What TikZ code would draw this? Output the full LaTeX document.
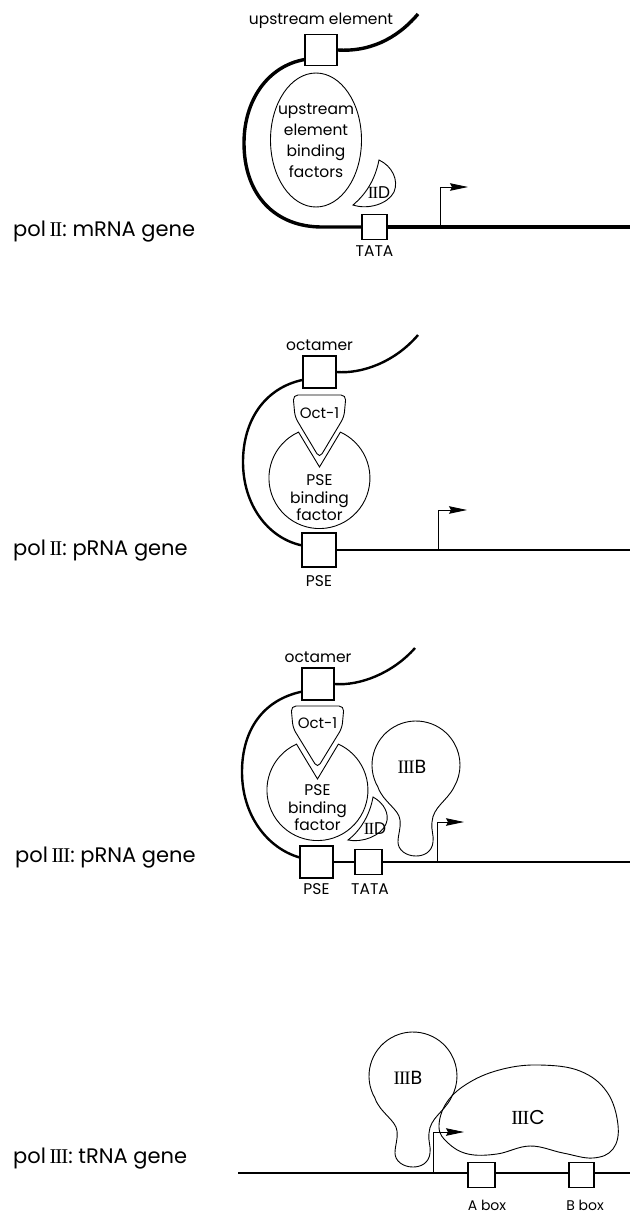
\documentclass[tikz,border=0pt]{standalone}
\usepackage{fontspec}
\setmainfont{Poppins}
\newfontfamily\serifrn{Liberation Serif}
\usetikzlibrary{arrows.meta,shapes.geometric}
\newcommand\romtwo{{\serifrn I\kern-0.05em I}}
\newcommand\romthree{{\serifrn I\kern-0.05em I\kern-0.05em I}}
\begin{document}
\begin{tikzpicture}[x=1pt,y=-1pt,
  every node/.style={font=\fontsize{15}{19}\selectfont, inner sep=0pt},
  elbox/.style={draw, line width=1.1pt, fill=white, inner sep=0pt},
  lab/.style={font=\fontsize{15.5}{19}\selectfont},
  sidelab/.style={anchor=base west, font=\fontsize{21}{24}\selectfont},
  inlab/.style={align=center, font=\fontsize{15.5}{#1}\selectfont},
  protlab/.style={font=\fontsize{19}{22}\selectfont},
  dnaA/.style={line width=3.4pt},
  dnaB/.style={line width=2.4pt},
  dnaC/.style={line width=2pt},
  prot/.style={line width=0.9pt},
  tssarrow/.style={line width=0.8pt, -{Stealth[length=18pt,width=7.5pt,inset=2pt]}}]
\useasboundingbox (0,0) rectangle (630,1213);
\def\IIIBshape{(-38.1,22) arc[start angle=150, end angle=390, radius=44]
   .. controls (31,36) and (17,42) .. (16,57)
   .. controls (15,66) and (18,70) .. (17,77)
   .. controls (16,87) and (8,91) .. (0,91)
   .. controls (-10,91) and (-18,85) .. (-18,77)
   .. controls (-18,69) and (-15,64) .. (-16,55)
   .. controls (-17,44) and (-33,37) .. (-38.1,22) -- cycle}

% ---------------- panel 1: pol II mRNA gene
\node[sidelab] (lab1) at (13,236) {pol\,\romtwo: mRNA gene};
\node[elbox, minimum width=32pt, minimum height=31pt] (ue1) at (321,50) {};
\node[lab] (ue1lab) at (321,21) {upstream element};
\coordinate (ue1end) at (418,14);
\node[elbox, minimum width=25pt, minimum height=25pt] (tata1) at (374.5,227) {};
\node[lab] (tata1lab) at (374.5,251) {TATA};
\coordinate (dna1end) at (630,227);
\draw[dnaA] (ue1.east) .. controls (368,52) and (396,40) .. (ue1end);
\draw[dnaA] (ue1.210) .. controls (268,66) and (244,100) .. (244,143)
   .. controls (244,195) and (275,227) .. (322,227) -- (tata1.west);
\draw[dnaA] (tata1.east) -- (dna1end);
\node[draw, ellipse, prot, minimum width=91pt, minimum height=134pt] (uebf) at (316,140) {};
\node[inlab=21pt] (uebftxt) at (316,141) {upstream\\element\\binding\\factors};
\draw[prot] (379,160) .. controls (392,166) and (399,180) .. (394,192)
   .. controls (388,204) and (368,210) .. (353,205)
   .. controls (366,194) and (375,180) .. (379,160) -- cycle;
\node[protlab, font=\fontsize{17}{20}\selectfont] (iid1) at (379,193) {\romtwo D};
\coordinate (tss1) at (440,227);
\coordinate (tss1top) at (440,187);
\coordinate (tss1tip) at (468,187);
\draw[tssarrow] (tss1) -- (tss1top) -- (tss1tip);

% ---------------- panel 2: pol II pRNA gene
\node[sidelab] (lab2) at (13,555) {pol\,\romtwo: pRNA gene};
\node[elbox, minimum width=33pt, minimum height=32pt] (oct2) at (319.5,372) {};
\node[lab] (oct2lab) at (319.5,345) {octamer};
\coordinate (oct2end) at (418,335);
\node[elbox, minimum width=34pt, minimum height=34pt] (pse2) at (319,550) {};
\node[lab] (pse2lab) at (319,581) {PSE};
\coordinate (dna2end) at (630,550);
\draw[dnaB] (oct2.east) .. controls (362,374) and (395,362) .. (oct2end);
\draw[dnaB] (oct2.205) .. controls (265,388) and (243,420) .. (243,462)
   .. controls (243,505) and (268,538) .. (pse2.165);
\draw[dnaC] (pse2.east) -- (dna2end);
\draw[prot, rounded corners=5pt] (293,395) -- (346,395) -- (344,417) -- (319.5,458) -- (295,417) -- cycle;
\node (oct1a) at (319.5,413) {Oct-1};
\draw[prot] (298.5,432.1) arc[start angle=245.5, end angle=-65.5, radius=50.5] -- (319.5,467) -- cycle;
\node[inlab=17.5pt] (psebf2) at (319.5,498) {PSE\\binding\\factor};
\coordinate (tss2) at (438,550);
\coordinate (tss2top) at (438,510);
\coordinate (tss2tip) at (467,510);
\draw[tssarrow] (tss2) -- (tss2top) -- (tss2tip);

% ---------------- panel 3: pol III pRNA gene
\node[sidelab] (lab3) at (15,862) {pol\,\romthree: pRNA gene};
\node[elbox, minimum width=32pt, minimum height=32pt] (oct3) at (318,684) {};
\node[lab] (oct3lab) at (318,657) {octamer};
\coordinate (oct3end) at (415,648);
\node[elbox, minimum width=33pt, minimum height=32pt] (pse3) at (316.5,862) {};
\node[elbox, minimum width=27pt, minimum height=25pt] (tata3) at (368.5,862) {};
\node[lab] (pse3lab) at (316.5,889) {PSE};
\node[lab] (tata3lab) at (370,889) {TATA};
\coordinate (dna3end) at (630,862);
\draw[dnaB] (oct3.east) .. controls (360,686) and (393,673) .. (oct3end);
\draw[dnaB] (oct3.205) .. controls (263,700) and (242,730) .. (242,772)
   .. controls (242,815) and (267,848) .. (pse3.165);
\draw[dnaB] (pse3.east) -- (tata3.west);
\draw[dnaC] (tata3.east) -- (dna3end);
\draw[prot, rounded corners=5pt] (291,706) -- (344,706) -- (342,728) -- (317.5,768) -- (293,728) -- cycle;
\node (oct1b) at (317.5,723) {Oct-1};
\draw[prot] (296.5,744.1) arc[start angle=245.5, end angle=-65.5, radius=50.5] -- (317.5,779) -- cycle;
\node[inlab=17.5pt] (psebf3) at (317.5,808) {PSE\\binding\\factor};
\draw[prot] (373,797) .. controls (384,803) and (390,814) .. (386,824)
   .. controls (381,836) and (362,843) .. (348,840)
   .. controls (360,831) and (370,815) .. (373,797) -- cycle;
\node[protlab, font=\fontsize{17}{20}\selectfont] (iid3) at (375,829) {\romtwo D};
\begin{scope}[shift={(416,765)}]
\draw[prot] \IIIBshape;
\end{scope}
\node[protlab] (iiib3) at (412,767) {\romthree B};
\coordinate (tss3) at (437,862);
\coordinate (tss3top) at (437,822);
\coordinate (tss3tip) at (464,822);
\draw[tssarrow] (tss3) -- (tss3top) -- (tss3tip);

% ---------------- panel 4: pol III tRNA gene
\node[sidelab] (lab4) at (13,1163) {pol\,\romthree: tRNA gene};
\coordinate (dna4start) at (238,1173);
\coordinate (dna4end) at (630,1173);
\draw[dnaC] (dna4start) -- (dna4end);
\node[elbox, minimum width=27pt, minimum height=25pt] (abox) at (481.5,1175) {};
\node[elbox, minimum width=25pt, minimum height=25pt] (bbox) at (581.5,1175) {};
\node[lab, font=\fontsize{14}{16}\selectfont] (aboxlab) at (487,1205) {A box};
\node[lab, font=\fontsize{14}{16}\selectfont] (bboxlab) at (585,1205) {B box};
\begin{scope}[shift={(413,1076)}]
\draw[prot] \IIIBshape;
\end{scope}
\node[protlab] (iiib4) at (408,1078) {\romthree B};
\draw[prot] plot[smooth cycle, tension=0.65] coordinates {(439,1127) (447,1102) (470,1082) (503,1069) (540,1065) (580,1071) (607,1092) (618,1125) (613,1149) (593,1158) (563,1153) (530,1146) (497,1154) (468,1154) (448,1143)};
\node[protlab, font=\fontsize{20}{22}\selectfont] (iiic) at (528,1117) {\romthree C};
\coordinate (tss4) at (433,1173);
\coordinate (tss4top) at (433,1132);
\coordinate (tss4tip) at (464,1132);
\draw[tssarrow] (tss4) -- (tss4top) -- (tss4tip);
\end{tikzpicture}
\end{document}
